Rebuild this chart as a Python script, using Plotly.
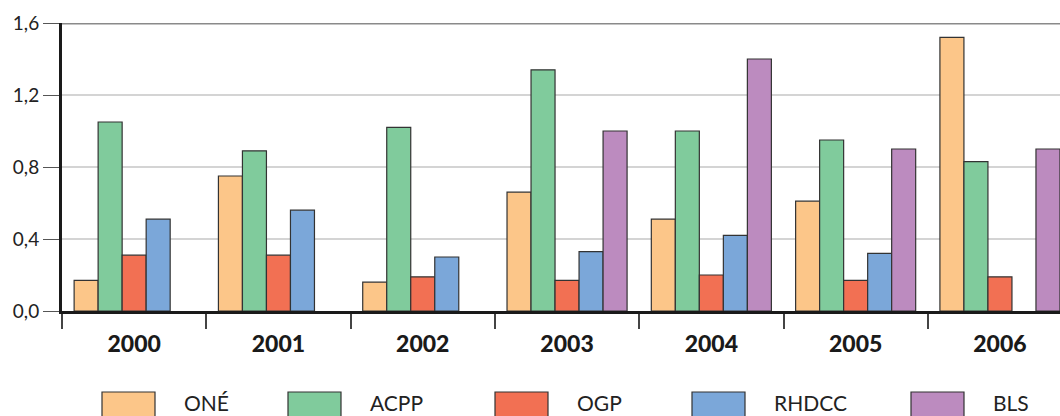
import plotly.graph_objects as go

# Categories and series
years = ["2000", "2001", "2002", "2003", "2004", "2005", "2006"]
series_names = ["ONÉ", "ACPP", "OGP", "RHDCC", "BLS"]

one_vals = [0.17, 0.75, 0.16, 0.66, 0.51, 0.61, 1.52]
acpp_vals = [1.05, 0.89, 1.02, 1.34, 1.00, 0.95, 0.83]
ogp_vals = [0.31, 0.31, 0.19, 0.17, 0.20, 0.17, 0.19]
rhdcc_vals = [0.51, 0.56, 0.30, 0.33, 0.42, 0.32, None]
bls_vals = [None, None, None, 1.00, 1.40, 0.90, 0.90]

y_ticks = [0.0, 0.4, 0.8, 1.2, 1.6]

colors = ["#FCC689", "#80CB9C", "#F27053", "#7BA7D9", "#BC8BBF"]
all_vals = [one_vals, acpp_vals, ogp_vals, rhdcc_vals, bls_vals]

FONT = "Lato"
W, H = 1060, 416
ML, MR, MT, MB = 62, 0, 23, 105
plot_w = W - ML - MR
plot_h = H - MT - MB

fig = go.Figure()
for name, vals, col in zip(series_names, all_vals, colors):
    fig.add_trace(go.Bar(
        x=years, y=vals, name=name,
        marker=dict(color=col, line=dict(color="#333333", width=1.2)),
        showlegend=False,
    ))

# category width in px is ~144.3; the last category runs past the right edge
cat_px = 144.3
x_hi = -0.5 + plot_w / cat_px

fig.update_layout(
    width=W, height=H,
    margin=dict(l=ML, r=MR, t=MT, b=MB, pad=0),
    paper_bgcolor="white", plot_bgcolor="white",
    barmode="group", bargap=0.168, bargroupgap=0,
    separators=",.",
    font=dict(family=FONT, color="#222222"),
    xaxis=dict(
        type="category", range=[-0.5, x_hi],
        showline=True, linecolor="#1a1a1a", linewidth=3,
        ticks="outside", tickson="boundaries", ticklen=15,
        tickcolor="#444444", tickwidth=1.5,
        ticklabelstandoff=10,
        tickfont=dict(family=FONT, size=23, color="#1a1a1a", weight=900),
        showgrid=False, zeroline=False,
    ),
    yaxis=dict(
        range=[0, 1.6], tickvals=y_ticks, tickformat=".1f",
        showline=True, linecolor="#1a1a1a", linewidth=3,
        ticks="outside", ticklen=16, tickcolor="#555555", tickwidth=1.2,
        tickfont=dict(family=FONT, size=19, color="#222222"),
        showgrid=True, gridcolor="#d4d4d4", gridwidth=2,
        zeroline=False,
    ),
)

# heavier top rule at 1,6
fig.add_shape(type="line", xref="paper", yref="y", x0=0, x1=1, y0=1.6, y1=1.6,
              line=dict(color="#8a8a8a", width=3), layer="above")

# legend: large swatches with labels below the chart
swatch_left_px = [102, 288, 495, 692, 911]
swatch_w_px = 53
label_gap_px = 27
sw_top_px, sw_bot_px = 392, 420
label_mid_px = 402

def px_x(px):
    return (px - ML) / plot_w

def px_y(py):
    return (H - MB - py) / plot_h

for name, col, left in zip(series_names, colors, swatch_left_px):
    fig.add_shape(type="rect", xref="paper", yref="paper",
                  x0=px_x(left), x1=px_x(left + swatch_w_px),
                  y0=px_y(sw_bot_px), y1=px_y(sw_top_px),
                  fillcolor=col, line=dict(color="#333333", width=1.2))
    fig.add_annotation(xref="paper", yref="paper",
                       x=px_x(left + swatch_w_px + label_gap_px), y=px_y(label_mid_px),
                       xanchor="left", yanchor="middle", showarrow=False,
                       text=name, font=dict(family=FONT, size=21, color="#222222"))

fig.write_html("out.html")
